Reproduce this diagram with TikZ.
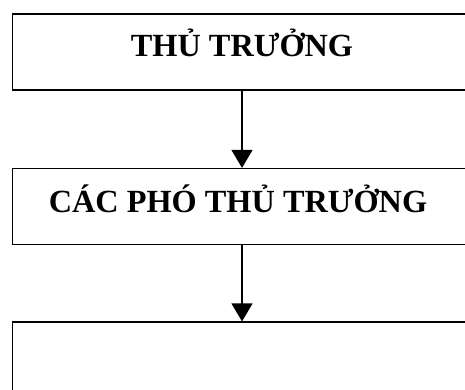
\documentclass[tikz,border=0pt]{standalone}
\usepackage{fontspec}
\setmainfont{Liberation Serif}
\usetikzlibrary{arrows.meta}
\begin{document}
\begin{tikzpicture}[x=1pt,y=1pt,
  orgbox/.style={draw=black,line width=1.2pt,minimum width=459pt,minimum height=76pt,inner sep=0pt},
  lbl/.style={anchor=base,font=\fontsize{32.3}{38}\selectfont\bfseries,inner sep=0pt},
  arr/.style={line width=1.2pt,-{Triangle[width=21pt,length=18pt]}}]
\useasboundingbox (0,0) rectangle (465,-390);
\clip (0,0) rectangle (465,-390);
\node[orgbox] (b1) at (242,-52) {};
\node[orgbox] (b2) at (242,-206.5) {};
\node[orgbox,minimum height=78pt] (b3) at (242,-361) {};
\node[lbl] (t1) at (242,-57) {THỦ TRƯỞNG};
\node[lbl] (t2) at (238,-212) {CÁC PHÓ THỦ TRƯỞNG};
\draw[arr] (b1.south) -- (b2.north);
\draw[arr] (b2.south) -- (b3.north);
\end{tikzpicture}
\end{document}
